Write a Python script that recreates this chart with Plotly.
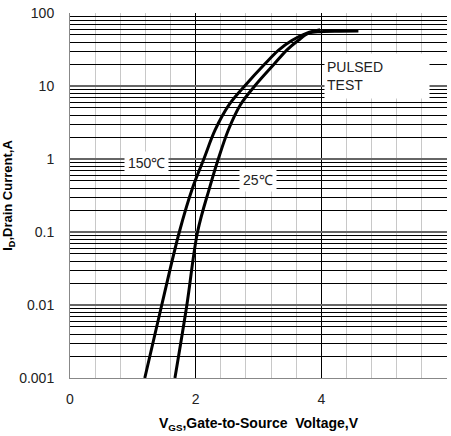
import plotly.graph_objects as go

# Data
vgs_150 = [1.19, 1.46, 1.74, 1.95, 2.13, 2.31, 2.53, 2.78, 3.10, 3.32, 3.53, 3.77, 3.98]
id_150 = [0.001, 0.01, 0.1, 0.4, 1.0, 2.5, 5.5, 10, 20, 31, 42, 53, 59]

vgs_25 = [1.67, 1.86, 2.03, 2.22, 2.36, 2.52, 2.71, 2.94, 3.25, 3.45, 3.63, 3.80, 4.0, 4.3, 4.59]
id_25 = [0.001, 0.01, 0.1, 0.4, 1.0, 2.5, 5.5, 10, 20, 31, 42, 53, 55.5, 56.2, 56.5]

y_tickvals = [0.001, 0.01, 0.1, 1, 10, 100]
y_ticktext = ["0.001", "0.01", "0.1", "1", "10", "100"]
x_tickvals = [0, 2, 4, 6]

FONT = "Liberation Sans, Arial, sans-serif"

fig = go.Figure()
fig.add_trace(go.Scatter(x=vgs_150, y=id_150, mode="lines", name="150℃",
                         line=dict(color="black", width=3, shape="spline", smoothing=1.0)))
fig.add_trace(go.Scatter(x=vgs_25, y=id_25, mode="lines", name="25℃",
                         line=dict(color="black", width=3, shape="spline", smoothing=1.0)))

fig.update_layout(
    width=451, height=436,
    margin=dict(l=70, r=4, t=13, b=58),
    paper_bgcolor="white", plot_bgcolor="white",
    showlegend=False,
    font=dict(family=FONT, size=14, color="#222"),
    xaxis=dict(
        range=[0, 6], tickvals=x_tickvals, ticktext=[str(v) for v in x_tickvals],
        showgrid=True, gridcolor="black", gridwidth=1,
        minor=dict(dtick=0.4, showgrid=True, gridcolor="#c8c8c8", gridwidth=1, ticks=""),
        zeroline=False, showline=True, linecolor="#888", linewidth=1,
        ticks="outside", ticklen=8, tickcolor="white",
        title=dict(text="V<sub>GS</sub>,Gate-to-Source\u00a0 Voltage,V",
                   font=dict(family=FONT, size=14, color="black", weight="bold"), standoff=12),
    ),
    yaxis=dict(
        type="log", range=[-3, 2], tickvals=y_tickvals, ticktext=y_ticktext,
        showgrid=True, gridcolor="#666", gridwidth=1.5,
        minor=dict(dtick="D1", showgrid=True, gridcolor="black", gridwidth=1, ticks=""),
        zeroline=False, showline=True, linecolor="#888", linewidth=1,
        ticks="outside", ticklen=12, tickcolor="white",
        title=dict(text="I<sub>D</sub>,Drain Current,A",
                   font=dict(family=FONT, size=13, color="black", weight="bold"), standoff=6),
    ),
)

fig.add_annotation(x=1.225, y=-0.055, xref="x", yref="y", text="150℃", showarrow=False,
                   bgcolor="white", borderpad=3, font=dict(size=14, color="#222"))
fig.add_annotation(x=2.99, y=-0.29, xref="x", yref="y", text="25℃", showarrow=False,
                   bgcolor="white", borderpad=3, font=dict(size=14, color="#222"))
fig.add_annotation(x=4.05, y=1.14, xref="x", yref="y", text="PULSED<br>TEST", showarrow=False,
                   xanchor="left", yanchor="middle", align="left", width=100, height=40,
                   bgcolor="white", borderpad=2, font=dict(size=14, color="#222"))

fig.write_html("out.html")
